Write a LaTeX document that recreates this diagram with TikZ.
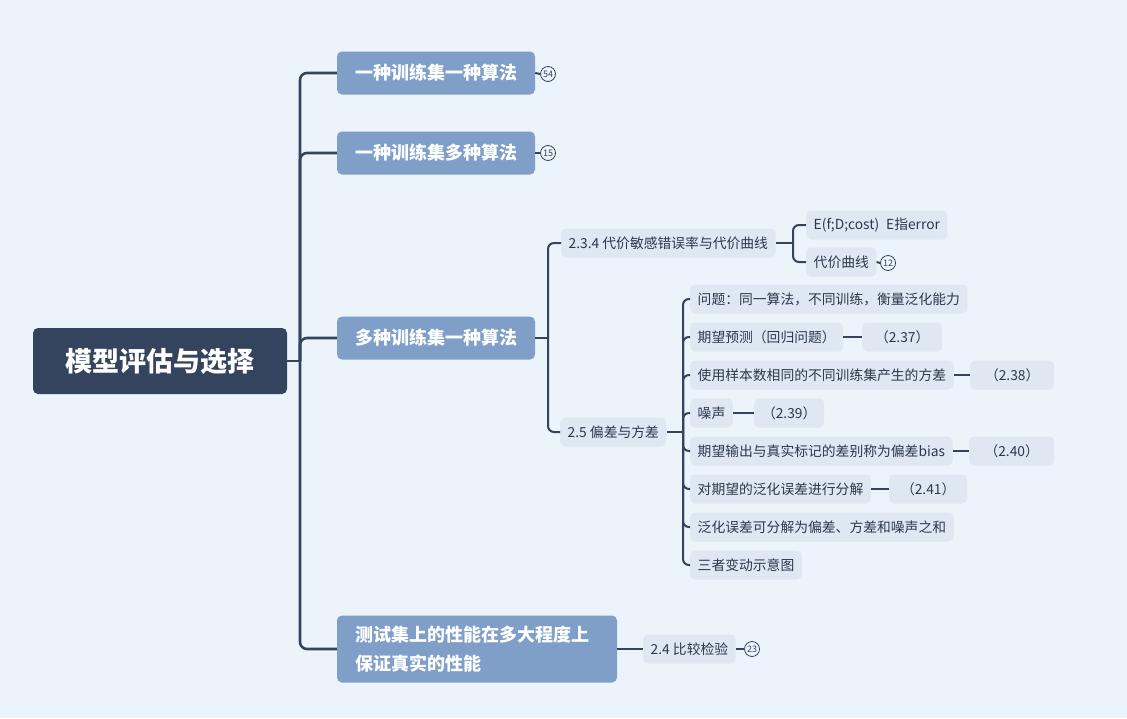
\documentclass[tikz,border=0pt]{standalone}
\usepackage{fontspec}
\setmainfont{Noto Sans CJK SC}
\usetikzlibrary{positioning}
\definecolor{bgblue}{RGB}{235,243,251}
\definecolor{navy}{RGB}{52,68,94}
\definecolor{topicblue}{RGB}{127,159,201}
\definecolor{subgray}{RGB}{222,231,242}
\definecolor{subtext}{RGB}{44,56,76}
\tikzset{
  rootbox/.style={fill=navy, text=white, rounded corners=5, inner sep=0,
    minimum width=254, minimum height=66, font=\fontsize{27}{32}\selectfont\bfseries},
  topicbox/.style={fill=topicblue, text=white, rounded corners=5, inner sep=0,
    minimum width=198, minimum height=43, font=\fontsize{18}{22}\selectfont\bfseries},
  subbox/.style={fill=subgray, text=subtext, rounded corners=5, anchor=west,
    inner xsep=7.5, inner ysep=0, minimum height=29, font=\fontsize{13.8}{16}\selectfont},
  conn/.style={draw=navy, line width=2.6, rounded corners=7},
  thinconn/.style={draw=navy, line width=2, rounded corners=6},
  numcirc/.style={circle, draw=navy, line width=0.8, minimum size=15, inner sep=0,
    text=navy, font=\fontsize{9}{9}\selectfont}
}

\begin{document}
\begin{tikzpicture}[x=1pt,y=-1pt]
\fill [bgblue] (0,0) rectangle (1127,718);
\useasboundingbox (0,0) rectangle (1127,718);
% root and main topics
\node [rootbox] (root) at (160,361) {模型评估与选择};
\node [topicbox] (oneone) at (436,73) {一种训练集一种算法};
\node [topicbox] (onemany) at (436,153) {一种训练集多种算法};
\node [topicbox] (manyone) at (436,338) {多种训练集一种算法};
\node [topicbox, minimum width=280, minimum height=67, text width=244, align=left,
  font=\fontsize{18}{29}\selectfont\bfseries] (testperf) at (477,649)
  {测试集上的性能在多大程度上\\保证真实的性能};
\coordinate (hub) at (300,361);
\draw [conn] (root.east) -- (hub);
\draw [conn] (hub) |- (oneone.west);
\draw [conn] (hub) |- (onemany.west);
\draw [conn] (hub) |- (manyone.west);
\draw [conn] (hub) |- (testperf.west);
% counters
\node [numcirc] (n54) at (548,74) {54};
\node [numcirc] (n15) at (548,153) {15};
\draw [thinconn] (oneone.east) -- (n54.west);
\draw [thinconn] (onemany.east) -- (n15.west);
% subtopics of manyone
\node [subbox] (cost) at (561,243) {2.3.4 代价敏感错误率与代价曲线};
\node [subbox] (biasvar) at (560,432) {2.5 偏差与方差};
\coordinate (hubb) at (548,338);
\draw [thinconn] (manyone.east) -- (hubb);
\draw [thinconn] (hubb) |- (cost.west);
\draw [thinconn] (hubb) |- (biasvar.west);
% cost curve
\node [subbox] (ecost) at (806,225) {E(f;D;cost)\enspace E指error};
\node [subbox] (curve) at (806,262) {代价曲线};
\node [numcirc] (n12) at (888,263) {12};
\coordinate (hubc) at (793,243);
\draw [thinconn] (cost.east) -- (hubc);
\draw [thinconn] (hubc) |- (ecost.west);
\draw [thinconn] (hubc) |- (curve.west);
\draw [thinconn] (curve.east) -- (n12.west);
% bias and variance
\node [subbox] (question) at (690,299) {问题：同一算法，不同训练，衡量泛化能力};
\node [subbox] (expect) at (690,337) {期望预测（回归问题）};
\node [subbox] (variance) at (690,375) {使用样本数相同的不同训练集产生的方差};
\node [subbox] (noise) at (690,413) {噪声};
\node [subbox] (bias) at (690,451) {期望输出与真实标记的差别称为偏差bias};
\node [subbox] (decomp) at (690,489) {对期望的泛化误差进行分解};
\node [subbox] (sum) at (690,527) {泛化误差可分解为偏差、方差和噪声之和};
\node [subbox] (sketch) at (690,565) {三者变动示意图};
\coordinate (hubd) at (683,432);
\draw [thinconn] (biasvar.east) -- (hubd);
\foreach \n in {question,expect,variance,noise,bias,decomp,sum,sketch}
  \draw [thinconn] (hubd) |- (\n.west);
% equation numbers
\node [subbox, minimum width=80] (eqa) at (862,337) {（2.37）};
\node [subbox, minimum width=84] (eqb) at (970,375) {（2.38）};
\node [subbox, minimum width=70] (eqc) at (754,413) {（2.39）};
\node [subbox, minimum width=85] (eqd) at (969,451) {（2.40）};
\node [subbox, minimum width=78] (eqe) at (889,489) {（2.41）};
\draw [thinconn] (expect.east) -- (eqa.west);
\draw [thinconn] (variance.east) -- (eqb.west);
\draw [thinconn] (noise.east) -- (eqc.west);
\draw [thinconn] (bias.east) -- (eqd.west);
\draw [thinconn] (decomp.east) -- (eqe.west);
% comparison test
\node [subbox] (compare) at (643,649) {2.4 比较检验};
\node [numcirc] (n23) at (752,649) {23};
\draw [thinconn] (testperf.east) -- (compare.west);
\draw [thinconn] (compare.east) -- (n23.west);
\end{tikzpicture}
\end{document}
